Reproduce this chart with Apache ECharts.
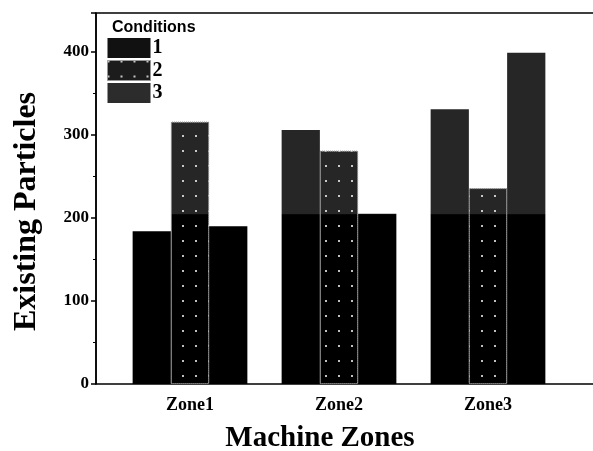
<!DOCTYPE html>
<html><head><meta charset="utf-8">
<script src="https://cdn.jsdelivr.net/npm/echarts@6/dist/echarts.min.js"></script>
<style>html,body{margin:0;padding:0;background:#fff}#c{width:593px;height:451px}</style>
</head><body><div id="c"></div>
<script>
const categories = ['Zone1', 'Zone2', 'Zone3'];
const seriesNames = ['1', '2', '3'];
const cond1 = [184, 306, 331];
const cond2 = [316, 281, 236];
const cond3 = [190, 205, 399];
const yTicks = [0, 100, 200, 300, 400];

const shade = {
  type: 'linear', x: 0, y: 0, x2: 0, y2: 451, global: true,
  colorStops: [
    {offset: 0, color: '#262626'}, {offset: 0.474, color: '#262626'},
    {offset: 0.476, color: '#000'}, {offset: 1, color: '#000'}
  ]
};
const serif = '"Liberation Serif", "DejaVu Serif", serif';
const chart = echarts.init(document.getElementById('c'));
chart.setOption({
  animation: false,
  backgroundColor: '#fff',
  title: {
    text: 'Conditions', left: 112, top: 20, padding: 0,
    textStyle: {fontFamily: '"Liberation Sans", Arial, sans-serif', fontWeight: 'bold', fontSize: 16, color: '#000'}
  },
  legend: {
    left: 107, top: 38, orient: 'vertical', itemWidth: 43, itemHeight: 20, itemGap: 2, padding: 0,
    icon: 'rect',
    textStyle: {fontFamily: serif, fontWeight: 'bold', fontSize: 20, color: '#000', padding: [0,0,0,-3]},
    data: [
      {name: '1', itemStyle: {color: '#111'}},
      {name: '2', itemStyle: {color: '#1c1c1c', borderColor: '#999', borderType: 'dotted', borderWidth: 1}},
      {name: '3', itemStyle: {color: '#2c2c2c'}}
    ]
  },
  grid: [
    {left: 115.5, right: 30.5, top: 13, bottom: 67, outerBoundsMode: 'none', containLabel: false},
    {left: 96, right: -20, top: 13, bottom: 67, outerBoundsMode: 'none', containLabel: false,
      show: true, borderColor: '#000', borderWidth: 1.5, backgroundColor: 'transparent'}
  ],
  xAxis: [
    {
      type: 'category', data: categories, gridIndex: 0,
      axisLine: {show: false}, axisTick: {show: false},
      axisLabel: {fontFamily: serif, fontWeight: 'bold', fontSize: 18, color: '#000', margin: 12},
      name: 'Machine Zones', nameLocation: 'middle', nameGap: 40,
      nameTextStyle: {fontFamily: serif, fontWeight: 'bold', fontSize: 29, color: '#000', padding: [0, 38, 0, 0]}
    },
    {type: 'value', gridIndex: 1, show: false}
  ],
  yAxis: [
    {
      type: 'value', gridIndex: 0, min: 0, max: 447, interval: 100, offset: 19.5,
      axisLine: {show: true, lineStyle: {color: '#000', width: 1.5}},
      axisTick: {show: true, length: 5, lineStyle: {color: '#000', width: 1.5}},
      minorTick: {show: true, splitNumber: 2, length: 3, lineStyle: {color: '#000'}},
      splitLine: {show: false},
      axisLabel: {
        fontFamily: serif, fontWeight: 'bold', fontSize: 17, color: '#000', margin: 7,
        formatter: v => yTicks.includes(v) ? String(v) : ''
      },
      name: 'Existing Particles', nameLocation: 'middle', nameGap: 53,
      nameTextStyle: {fontFamily: serif, fontWeight: 'bold', fontSize: 32, color: '#000', padding: [0, 26, 0, 0]}
    },
    {type: 'value', gridIndex: 1, show: false}
  ],
  series: [
    {name: seriesNames[0], type: 'bar', data: cond1, barGap: '0%', barCategoryGap: '23%', itemStyle: {color: shade}},
    {name: seriesNames[1], type: 'bar', data: cond2, barGap: '0%', barCategoryGap: '23%',
      itemStyle: {color: shade, borderColor: '#8a8a8a', borderType: 'dotted', borderWidth: 1,
        decal: {symbol: 'rect', symbolSize: 1, dashArrayX: [2, 11], dashArrayY: [2, 13], color: 'rgba(255,255,255,0.75)'}}},
    {name: seriesNames[2], type: 'bar', data: cond3, barGap: '0%', barCategoryGap: '23%', itemStyle: {color: shade}}
  ]
});
</script></body></html>
